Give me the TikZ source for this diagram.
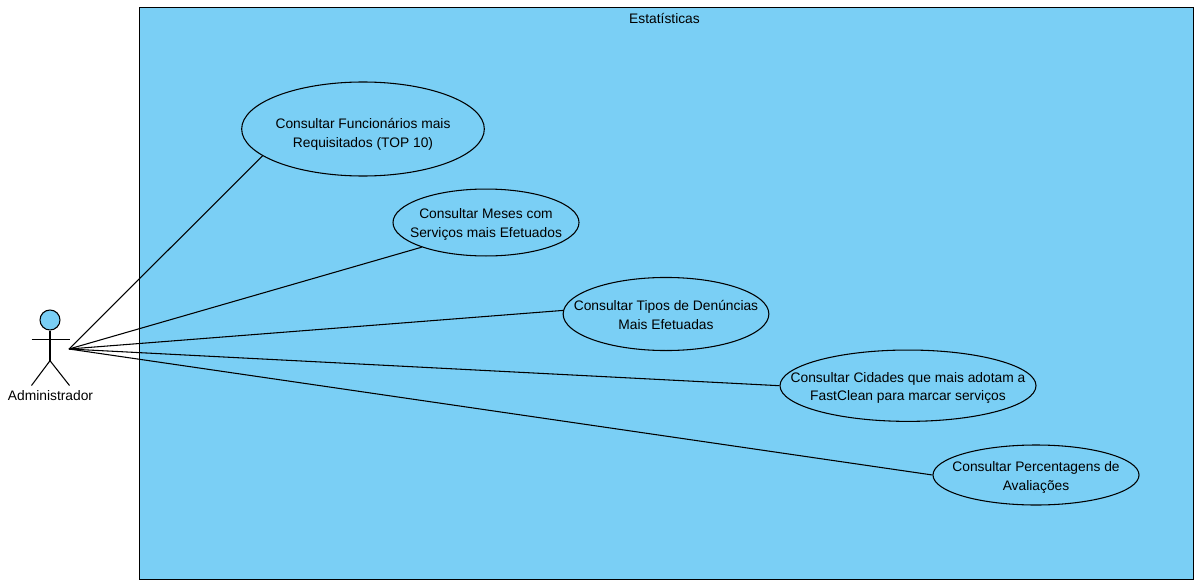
\documentclass[tikz,border=0pt]{standalone}
\usepackage{fontspec}
\setmainfont{Liberation Sans}
\usetikzlibrary{shapes.geometric}
\definecolor{fillblue}{RGB}{122,207,245}
\newcommand{\topgap}[1]{\rule{0pt}{#1}}
\tikzset{
  x=0.75pt,y=-0.75pt,
  uc/.style={ellipse,draw=black,fill=fillblue,line width=0.8pt,inner sep=-40pt,align=center,font=\fontsize{10.35pt}{14pt}\selectfont},
  lbl/.style={font=\fontsize{10.35pt}{14pt}\selectfont,inner sep=0pt},
  ln/.style={draw=black,line width=0.8pt}
}
\begin{document}
\begin{tikzpicture}
\useasboundingbox (0,0) rectangle (1201,588);
\fill[white] (0,0) rectangle (1201,588);
\node[draw=black,fill=fillblue,line width=0.8pt,minimum width=790.5pt,minimum height=428.8pt,inner sep=0pt,anchor=north west] (sys) at (138.5,7.3) {};
\node[lbl] (title) at (664.5,18.5) {Estatísticas};
\node[uc,minimum width=182pt,minimum height=70.5pt] (a) at (363,129) {\topgap{16.1pt}Consultar Funcionários mais\\Requisitados (TOP 10)};
\node[uc,minimum width=139.5pt,minimum height=50.2pt] (b) at (486,222.5) {\topgap{10.9pt}Consultar Meses com\\Serviços mais Efetuados};
\node[uc,minimum width=154.3pt,minimum height=54.8pt] (c) at (666,314) {\topgap{8.6pt}Consultar Tipos de Denúncias\\Mais Efetuadas};
\node[uc,minimum width=192pt,minimum height=53.5pt] (d) at (908,385.7) {\topgap{10.9pt}Consultar Cidades que mais adotam a\\FastClean para marcar serviços};
\node[uc,minimum width=154.5pt,minimum height=45pt] (e) at (1036,475) {\topgap{11.6pt}Consultar Percentagens de\\Avaliações};
\node[circle,draw=black,fill=fillblue,line width=0.8pt,minimum size=15pt,inner sep=0pt] (head) at (50,320) {};
\coordinate (hip) at (50,360.7);
\coordinate (hl) at (31.5,339.8);
\coordinate (hr) at (69.5,339.8);
\coordinate (fl) at (31.5,385.5);
\coordinate (fr) at (69.5,385.5);
\coordinate (hand) at (69,349);
\draw[ln] (head.south) -- (hip);
\draw[ln] (hl) -- (hr);
\draw[ln] (hip) -- (fl);
\draw[ln] (hip) -- (fr);
\node[lbl] (actor) at (50.5,395.5) {Administrador};
\draw[ln] (hand) -- (a.195);
\draw[ln] (hand) -- (b.201.4);
\draw[ln] (hand) -- (c.178.2);
\draw[ln] (hand) -- (d.180);
\draw[ln] (hand) -- (e.180);
\end{tikzpicture}
\end{document}
